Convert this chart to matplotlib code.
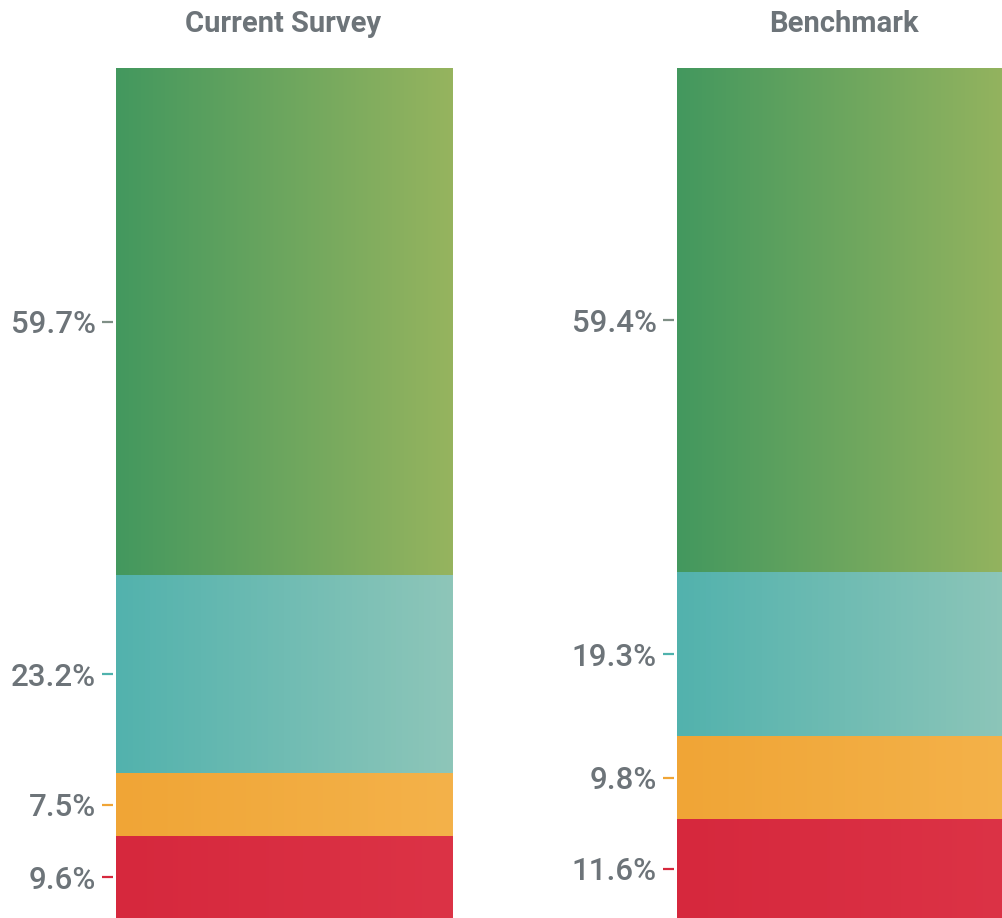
import numpy as np
import matplotlib
matplotlib.use("Agg")
import matplotlib.pyplot as plt
from matplotlib.colors import to_rgb

# data (bottom -> top)
segments = ["Red", "Orange", "Teal", "Green"]
current_vals = [9.6, 7.5, 23.2, 59.7]
benchmark_vals = [11.6, 9.8, 19.3, 59.4]
titles = ["Current Survey", "Benchmark"]

# colours: (left edge, right edge) of the horizontal gradient
grad = {
    "Green": ("#43985f", "#96b45e"),
    "Teal": ("#52b2ad", "#8ec6b9"),
    "Orange": ("#f0a536", "#f4b24a"),
    "Red": ("#d6283d", "#dc3346"),
}
tick_col = {"Green": "#7f8f86", "Teal": "#4fb2ad", "Orange": "#f0a536", "Red": "#d6283d"}
TXT = "#6d7479"

plt.rcParams['font.family'] = ['Roboto', 'DejaVu Sans']

W, H = 1002, 918
fig = plt.figure(figsize=(W / 100, H / 100), dpi=100)
fig.patch.set_facecolor("white")


def gradient(c0, c1, n=256):
    a, b = np.array(to_rgb(c0)), np.array(to_rgb(c1))
    t = np.linspace(0, 1, n)[:, None]
    return (a * (1 - t) + b * t)[None, :, :]


def draw_bar(ax, vals, title):
    total = sum(vals)
    bottoms = np.concatenate([[0], np.cumsum(vals)[:-1]])
    for name, v, b in zip(segments, vals, bottoms):
        c0, c1 = grad[name]
        ax.imshow(gradient(c0, c1), extent=[0, 1, b, b + v], aspect="auto",
                  interpolation="bilinear", zorder=1)
    ax.set_xlim(-0.009, 1)
    ax.set_ylim(0, total)
    mids = bottoms + np.array(vals) / 2
    ax.set_yticks(mids)
    ax.set_yticklabels([f"{v}%" for v in vals], fontsize=22.5, color=TXT,
                       fontweight="medium")
    ax.tick_params(axis="y", length=8, width=1.6, pad=4.5)
    for tk, name in zip(ax.yaxis.get_major_ticks(), segments):
        tk.tick1line.set_markeredgecolor(tick_col[name])
    ax.set_xticks([])
    for s in ax.spines.values():
        s.set_visible(False)
    ax.set_facecolor("none")
    ax.set_title(title, fontsize=21, fontweight="bold", color=TXT, pad=26)


bw = 340 / W
ax1 = fig.add_axes([113 / W, 0, bw, 850 / H])
ax2 = fig.add_axes([674 / W, 0, bw, 850 / H])
draw_bar(ax1, current_vals, titles[0])
draw_bar(ax2, benchmark_vals, titles[1])

fig.savefig("out.png", dpi=100)
